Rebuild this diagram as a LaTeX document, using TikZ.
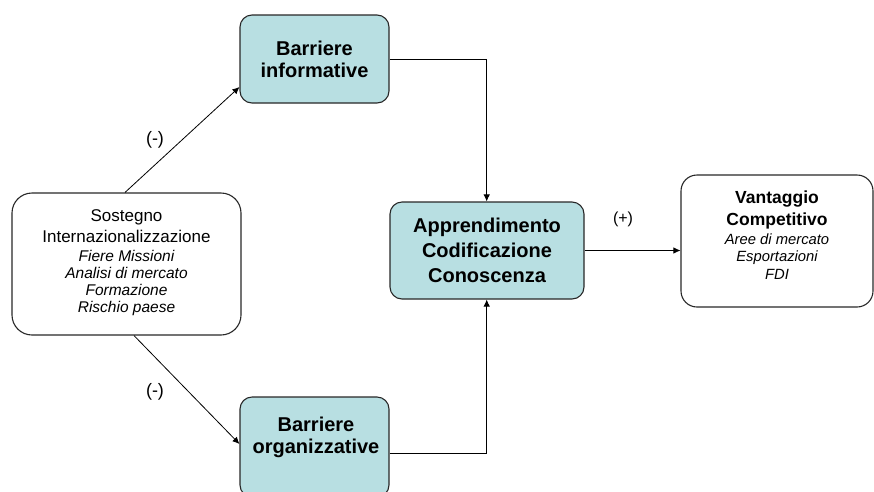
\documentclass[tikz,border=0pt]{standalone}
\usepackage{fontspec}
\setmainfont{Liberation Sans}
\usetikzlibrary{arrows.meta,calc}
\definecolor{teal1}{RGB}{184,223,226}
\definecolor{bord}{RGB}{40,40,40}
\begin{document}
\begin{tikzpicture}[x=1pt,y=-1pt,
  boxbase/.style={draw=bord,line width=1.1pt,inner sep=0pt,align=center},
  tealbox/.style={boxbase,fill=teal1,rounded corners=12pt,font=\fontsize{20}{23}\selectfont\bfseries},
  whitebox/.style={boxbase,fill=white},
  conn/.style={line width=0.8pt,draw=black},
  arr/.style={conn,-{Latex[length=7pt,width=6.5pt]}},
  lbl/.style={font=\fontsize{18}{20}\selectfont,inner sep=0pt}]
\useasboundingbox (0,0) rectangle (874,491);
\clip (0,0) rectangle (874,491);
% nodes
\node[whitebox,rounded corners=20pt,minimum width=229pt,minimum height=142pt] (sost) at (126.5,264) {};
\node[align=center,inner sep=0pt,font=\fontsize{15.5}{17}\selectfont\itshape] (sostt) at (126.5,262.5)
  {{\upshape\fontsize{17}{21}\selectfont Sostegno}\\[4.5pt]{\upshape\fontsize{17}{21}\selectfont Internazionalizzazione}\\[1.5pt]
   Fiere Missioni\\Analisi di mercato\\Formazione\\Rischio paese};
\node[tealbox,minimum width=149pt,minimum height=88pt] (binf) at (314.5,59) {Barriere\\[-1pt]informative};
\node[tealbox,minimum width=149pt,minimum height=100pt] (borg) at (314.5,447) {};
\node[align=center,inner sep=0pt,font=\fontsize{20}{23}\selectfont\bfseries] (borgt) at (316,437) {Barriere\\[-1pt]organizzative};
\node[tealbox,minimum width=194pt,minimum height=97pt] (appr) at (487,250.5) {Apprendimento\\[2pt]Codificazione\\[2pt]Conoscenza};
\node[whitebox,rounded corners=16pt,minimum width=192pt,minimum height=132pt] (vant) at (777,241) {};
\node[align=center,inner sep=0pt,font=\fontsize{14.8}{17.3}\selectfont\itshape] (vantt) at (777,235)
  {{\upshape\bfseries\fontsize{17.5}{21}\selectfont Vantaggio}\\[4.3pt]{\upshape\bfseries\fontsize{17.5}{21}\selectfont Competitivo}\\[2pt]
   Aree di mercato\\Esportazioni\\FDI};
% connectors
\coordinate (jx) at (486.7,0);
\draw[arr] ([xshift=-1.5pt]sost.north) -- ([yshift=-28pt]binf.west);
\draw[arr] ([xshift=7.5pt]sost.south) -- ([yshift=3pt]borg.west);
\draw[arr] (binf.east) -- (binf.east -| jx) -- (appr.north -| jx);
\draw[arr] ([yshift=-6pt]borg.east) -- ([yshift=-6pt]borg.east -| jx) -- (appr.south -| jx);
\draw[arr] (appr.east) -- (appr.east -| vant.west);
% labels
\node[lbl] (m1) at (155,140) {(-)};
\node[lbl] (m2) at (155,392) {(-)};
\node[lbl,font=\fontsize{16}{18}\selectfont] (p1) at (623,219) {(+)};
\end{tikzpicture}
\end{document}
